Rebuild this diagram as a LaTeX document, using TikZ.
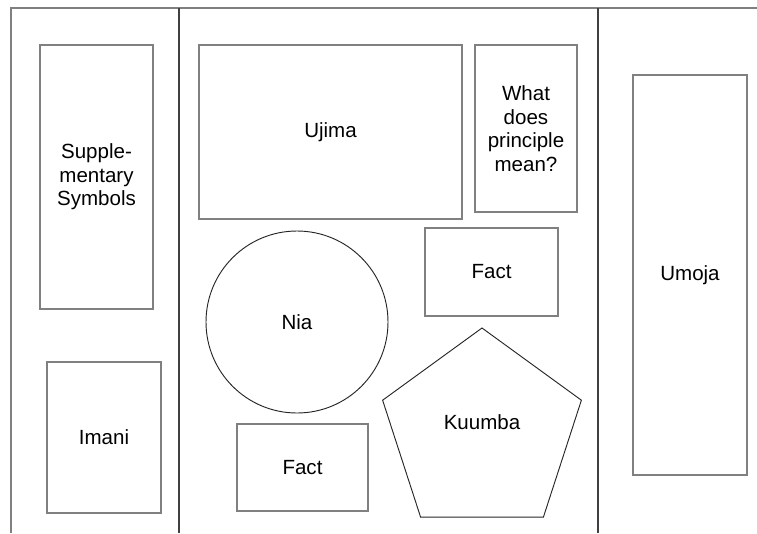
\documentclass[tikz,border=0pt]{standalone}
\usepackage{fontspec}
\setmainfont{Liberation Sans}
\usetikzlibrary{shapes.geometric,calc}
\definecolor{linegray}{HTML}{808080}
\definecolor{divgray}{HTML}{404040}
\newdimen\pxu \pxu=0.75pt
\begin{document}
\begin{tikzpicture}[x=0.75pt,y=-0.75pt,
    every node/.style={font=\fontsize{15.4}{17.6}\selectfont,align=center,inner sep=0pt},
    box/.style={draw=linegray,line width=1pt},
    shape line/.style={draw=black!85,line width=0.7pt}]
  \useasboundingbox (0,0) rectangle (757,533);
  % frame and column dividers
  \coordinate (tl) at (11,8);
  \coordinate (tr) at (757,8);
  \coordinate (bl) at (11,533);
  \draw[linegray,line width=1pt] (bl) -- (tl) -- (tr);
  \draw[divgray,line width=0.8pt] (179,8) coordinate (d1) -- (179,533) coordinate (d1b);
  \draw[divgray,line width=0.8pt] (598,8) coordinate (d2) -- (598,533) coordinate (d2b);
  % left column
  \node[box,minimum width=113\pxu,minimum height=264\pxu] (supp) at (96.5,177) {Supple-\\mentary\\Symbols};
  \node[box,minimum width=114\pxu,minimum height=151\pxu] (imani) at (104,437.5) {Imani};
  % middle column
  \node[box,minimum width=263\pxu,minimum height=174\pxu] (ujima) at (330.5,132) {Ujima};
  \node[box,minimum width=102\pxu,minimum height=167\pxu] (what) at (526,128.5) {What\\does\\principle\\mean?};
  \node[box,minimum width=133\pxu,minimum height=88\pxu] (fact1) at (491.5,272) {Fact};
  \node[shape line,circle,minimum size=182\pxu] (nia) at (297,322) {Nia};
  \node[box,minimum width=131\pxu,minimum height=87\pxu] (fact2) at (302.5,467.5) {Fact};
  \node[shape line,regular polygon,regular polygon sides=5,minimum size=209\pxu] (kuumba) at (482,432.5) {};
  \node (kuumbatext) at ($(kuumba.corner 1)!0.5!(kuumba.side 3)$) {Kuumba};
  % right column
  \node[box,minimum width=114\pxu,minimum height=400\pxu] (umoja) at (690,275) {Umoja};
\end{tikzpicture}
\end{document}
